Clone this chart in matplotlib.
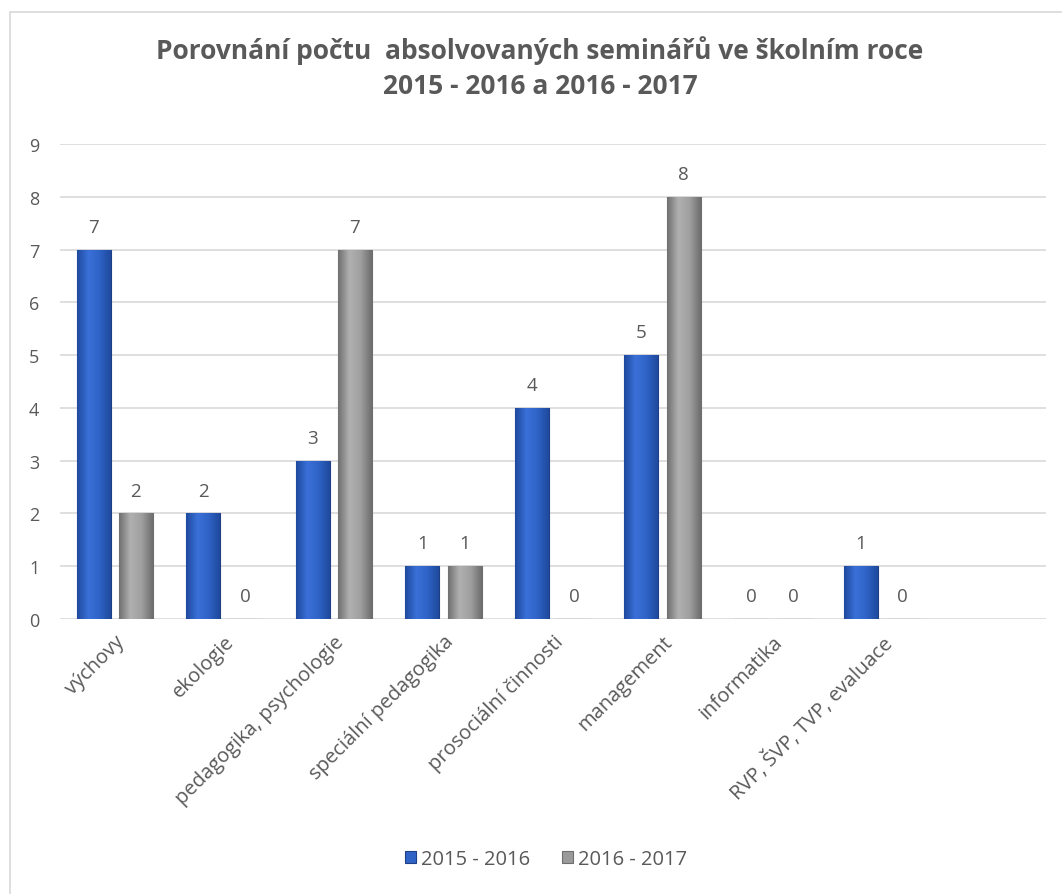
import matplotlib
matplotlib.use("Agg")
import matplotlib.pyplot as plt
import numpy as np
from matplotlib.patches import Rectangle
from matplotlib.colors import LinearSegmentedColormap

categories = ["výchovy", "ekologie", "pedagogika, psychologie", "speciální pedagogika",
              "prosociální činnosti", "management", "informatika", "RVP, ŠVP, TVP, evaluace", ""]
s2015 = [7, 2, 3, 1, 4, 5, 0, 1, None]
s2016 = [2, 0, 7, 1, 0, 8, 0, 0, None]
series_names = ["2015 - 2016", "2016 - 2017"]
yticks = list(range(0, 10))
title = "Porovnání počtu  absolvovaných seminářů ve školním roce\n2015 - 2016 a 2016 - 2017"

plt.rcParams['font.family'] = ['Open Sans', 'DejaVu Sans']
txt = "#595959"

fig = plt.figure(figsize=(10.62, 8.95), dpi=100)
ax = fig.add_axes([60/1062, 1-620/895, (1046-60)/1062, (620-145)/895])

# border of chart area
fig.patches.append(Rectangle((10/1062, -0.1), 1.2, 1-13/895+0.1, transform=fig.transFigure,
                             fill=False, edgecolor="#D9D9D9", linewidth=1.2))

x = np.arange(len(categories))
w = 0.31
gap = 0.075
off = (w + gap) / 2
v1 = [np.nan if v is None else v for v in s2015]
v2 = [np.nan if v is None else v for v in s2016]
b1 = ax.bar(x - off, v1, w, color="#2F63C6", edgecolor="#1E3F86", linewidth=0.8, zorder=2,
            label=series_names[0])
b2 = ax.bar(x + off, v2, w, color="#9A9A9A", edgecolor="#6E6E6E", linewidth=0.8, zorder=2,
            label=series_names[1])

# gradient shading
cm_blue = LinearSegmentedColormap.from_list("b", ["#1F4A9E", "#3A70D8", "#2F63C6", "#1F4A9E"])
cm_gray = LinearSegmentedColormap.from_list("g", ["#707070", "#B0B0B0", "#A0A0A0", "#6E6E6E"])
grad = np.linspace(0, 1, 64).reshape(1, -1)
for bars, cm in ((b1, cm_blue), (b2, cm_gray)):
    for p in bars:
        h = p.get_height()
        if not np.isfinite(h) or h <= 0:
            continue
        x0, y0 = p.get_x(), p.get_y()
        im = ax.imshow(grad, cmap=cm, aspect="auto", extent=(x0, x0 + p.get_width(), y0, y0 + h),
                       zorder=2.5, interpolation="bicubic")
        im.set_clip_path(p)

for bars in (b1, b2):
    for p in bars:
        h = p.get_height()
        if not np.isfinite(h):
            continue
        ax.annotate(f"{int(h)}", (p.get_x() + p.get_width() / 2, h), xytext=(0, 10),
                    textcoords="offset points", ha="center", va="bottom", fontsize=13.5, color=txt)

ax.set_xlim(-0.5, len(categories) - 0.5)
ax.set_ylim(0, 9)
ax.set_yticks(yticks)
ax.set_yticklabels([str(t) for t in yticks], fontsize=13, color=txt)
ax.set_xticks(x)
ax.set_xticklabels(categories, rotation=45, ha="right", rotation_mode="anchor", fontsize=14.5, color=txt)
ax.tick_params(axis="both", length=0)
ax.tick_params(axis="y", pad=15)
ax.tick_params(axis="x", pad=9)
ax.grid(axis="y", color="#D9D9D9", linewidth=1.2, zorder=0)
ax.set_axisbelow(True)
for s in ax.spines.values():
    s.set_visible(False)

fig.suptitle(title, x=540/1062, y=1-36/895, fontsize=19, fontweight="bold", color=txt, va="top", linespacing=1.4)

leg = fig.legend(handles=[b1, b2], labels=series_names, loc="center", bbox_to_anchor=(546/1062, 1-860/895),
                 ncol=2, frameon=False, fontsize=14.5, handlelength=0.55, handleheight=0.55,
                 handletextpad=0.25, columnspacing=1.6)
for t in leg.get_texts():
    t.set_color(txt)

fig.savefig("out.png", dpi=100)
